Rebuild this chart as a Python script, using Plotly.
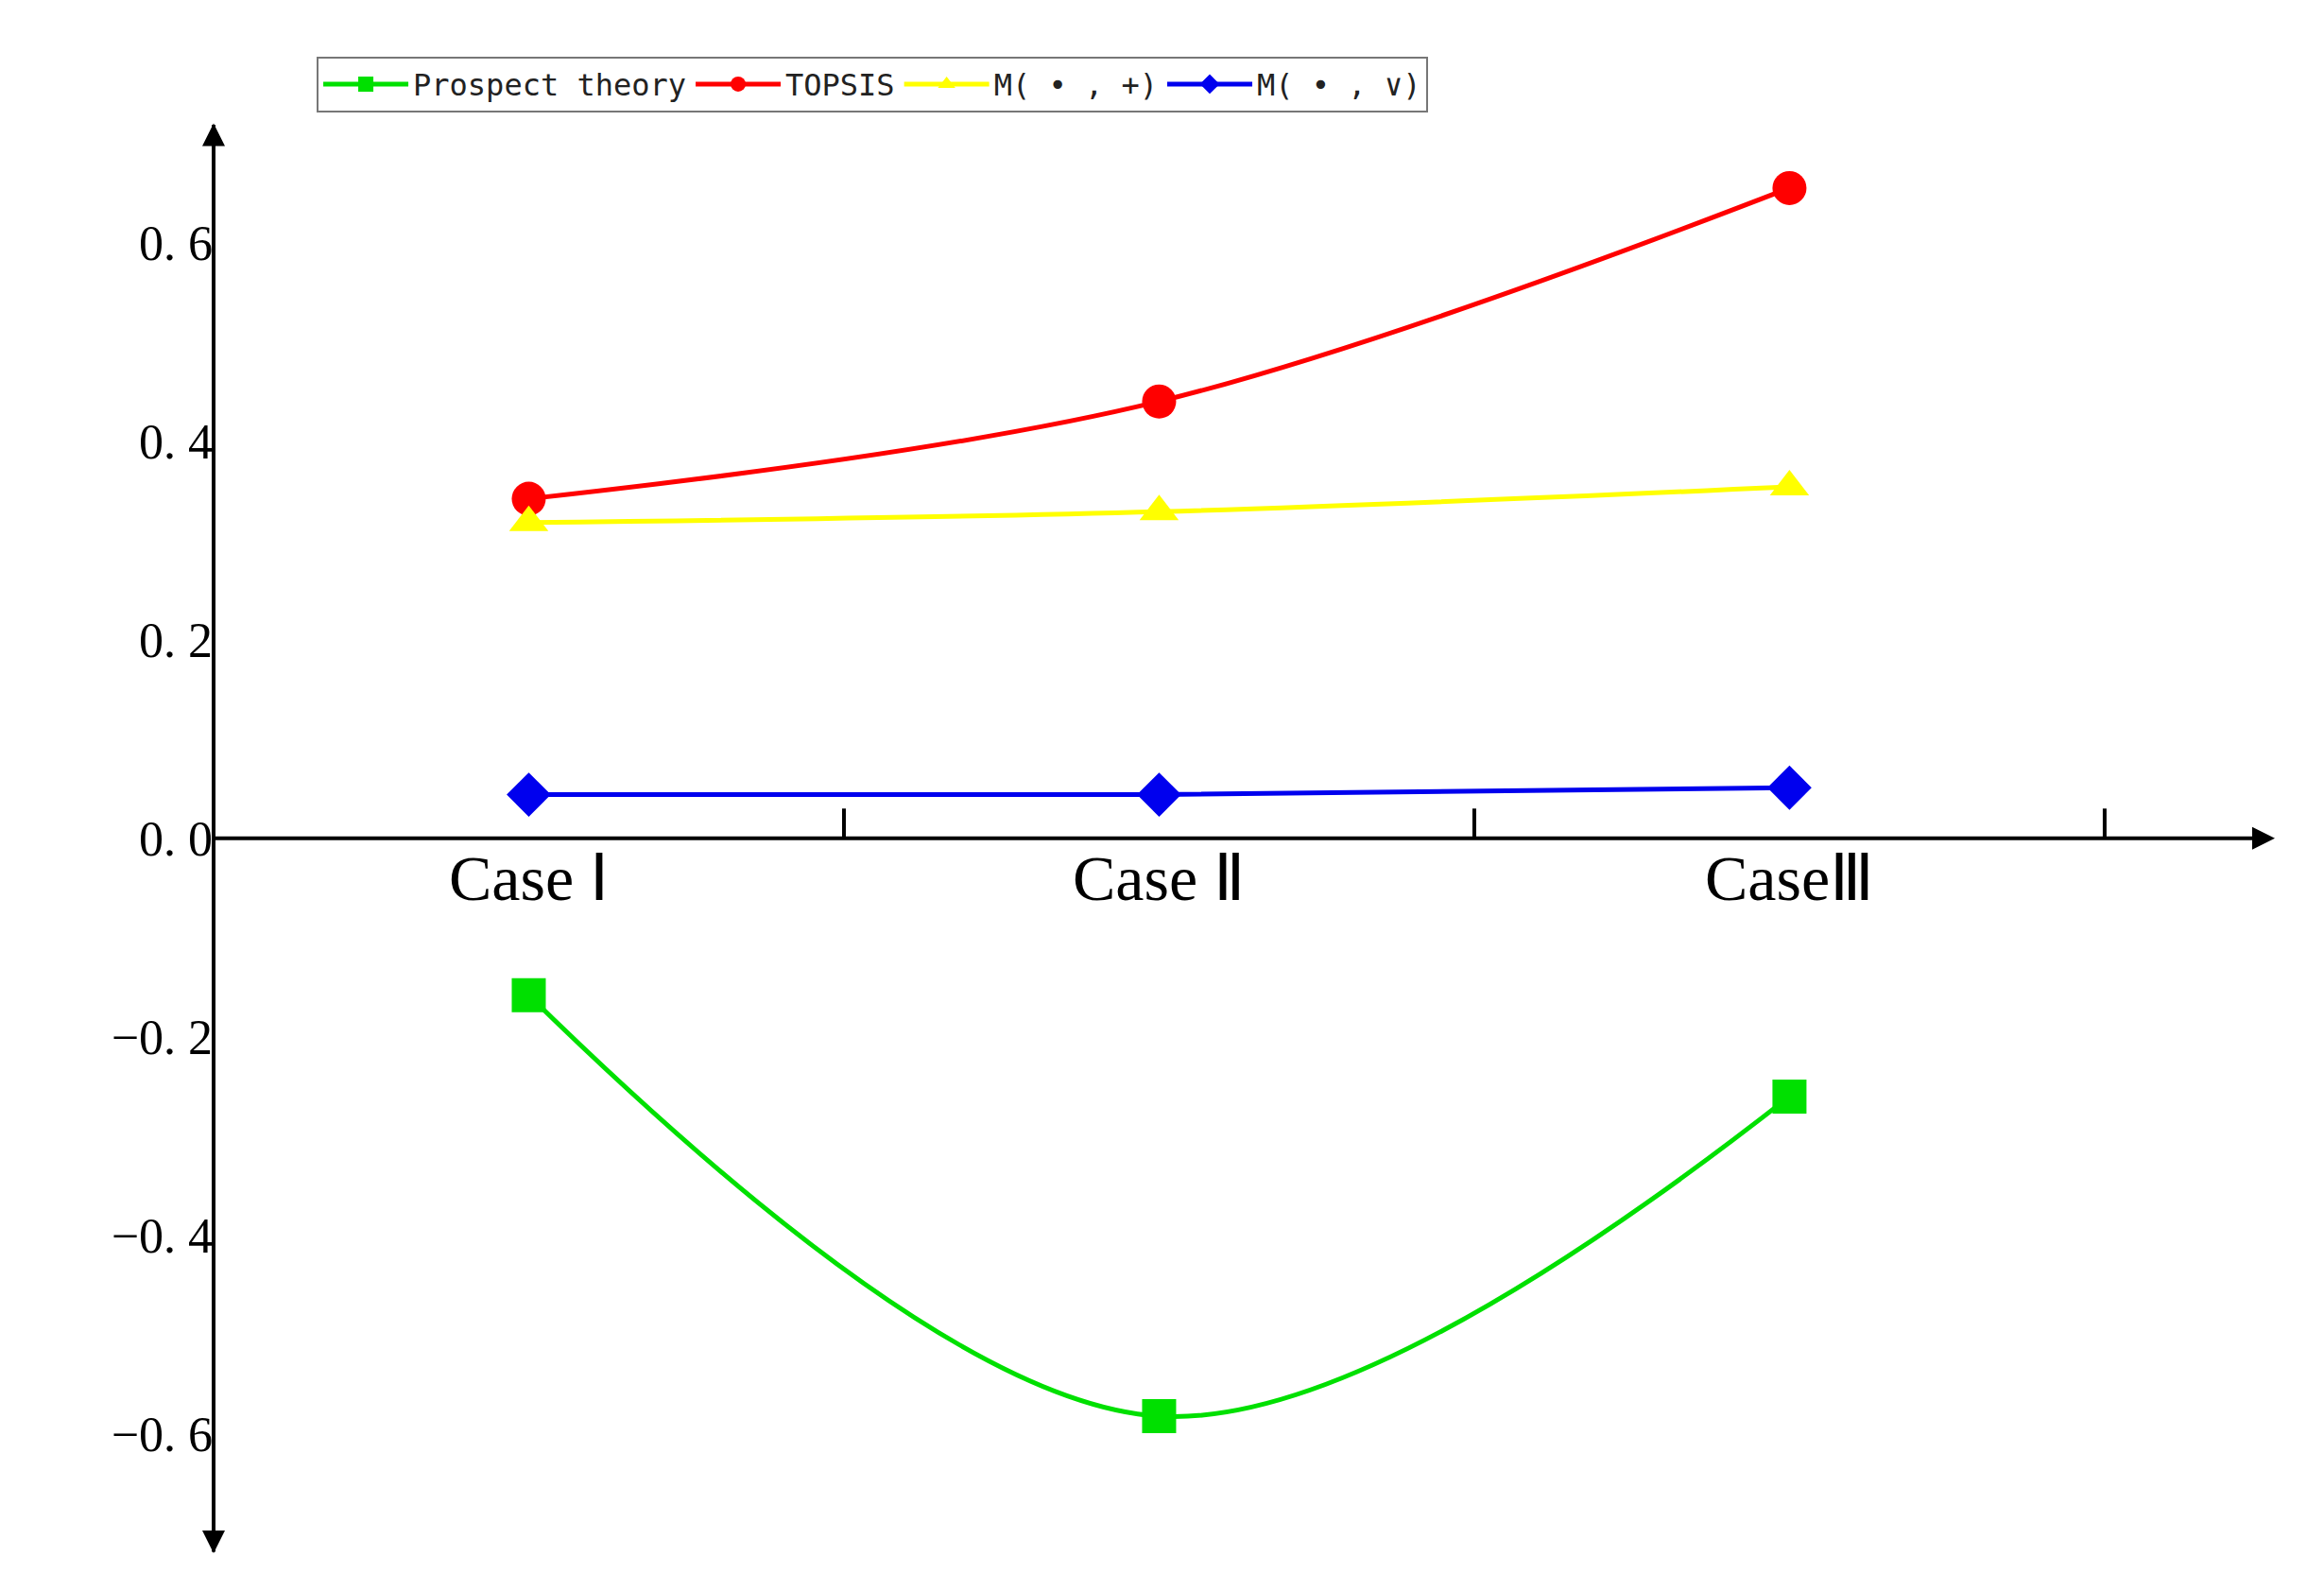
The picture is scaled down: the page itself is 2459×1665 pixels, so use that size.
import plotly.graph_objects as go

cases = ["Case Ⅰ", "Case Ⅱ", "CaseⅢ"]
case_pos = [0.5, 1.5, 2.5]
prospect = [-0.158, -0.582, -0.26]
topsis = [0.342, 0.44, 0.655]
m_plus = [0.318, 0.329, 0.354]
m_vee = [0.044, 0.044, 0.051]
y_ticks = [-0.6, -0.4, -0.2, 0.0, 0.2, 0.4, 0.6]
y_tick_text = ["−0. 6", "−0. 4", "−0. 2", "0. 0", "0. 2", "0. 4", "0. 6"]

series = [
    ("Prospect theory", prospect, "#00e000", "square"),
    ("TOPSIS", topsis, "#ff0000", "circle"),
    ("M( • , +)", m_plus, "#ffff00", "triangle-up"),
    ("M( • , ∨)", m_vee, "#0000ee", "diamond"),
]

fig = go.Figure()
for name, vals, col, sym in series:
    fig.add_trace(go.Scatter(
        x=case_pos, y=vals, name=name, mode="lines+markers",
        line=dict(color=col, width=5, shape="spline"),
        marker=dict(color=col, size=36, symbol=sym),
    ))

# x axis line with arrow at y=0 and ticks between cases
fig.add_annotation(x=3.27, y=0, ax=0, ay=0, xref="x", yref="y", axref="x", ayref="y",
                   showarrow=True, arrowhead=2, arrowsize=1.2, arrowwidth=4, arrowcolor="black", text="")
for t in [1, 2, 3]:
    fig.add_shape(type="line", x0=t, x1=t, y0=0, y1=0.03, xref="x", yref="y",
                  line=dict(color="black", width=4))
for lbl, p in zip(cases, case_pos):
    fig.add_annotation(x=p, y=0, xref="x", yref="y", text=lbl, showarrow=False,
                       yanchor="top", yshift=-2, font=dict(size=68, family="Liberation Serif", color="black"))
# y axis arrows
fig.add_annotation(x=0, y=0.72, ax=0, ay=-0.72, xref="x", yref="y", axref="x", ayref="y",
                   showarrow=True, arrowhead=2, arrowsize=1.2, arrowwidth=4, arrowcolor="black", text="")
fig.add_annotation(x=0, y=-0.72, ax=0, ay=0.72, xref="x", yref="y", axref="x", ayref="y",
                   showarrow=True, arrowhead=2, arrowsize=1.2, arrowwidth=4, arrowcolor="black", text="")

fig.update_layout(
    width=2459, height=1665, plot_bgcolor="white", paper_bgcolor="white",
    margin=dict(l=218, r=40, t=71, b=30),
    legend=dict(orientation="h", xref="container", x=0.133, xanchor="left",
                yref="container", y=0.969, yanchor="top",
                bordercolor="#777", borderwidth=2, bgcolor="white",
                font=dict(family="DejaVu Sans Mono", size=32, color="#222"),
                itemwidth=90, tracegroupgap=0),
)
fig.update_xaxes(range=[0, 3.3], visible=False)
fig.update_yaxes(range=[-0.72, 0.72], showgrid=False, zeroline=False, showline=False,
                 tickvals=y_ticks, ticktext=y_tick_text,
                 ticks="", ticklen=0,
                 tickfont=dict(family="Liberation Serif", size=52, color="black"))
fig.write_html("out.html")
